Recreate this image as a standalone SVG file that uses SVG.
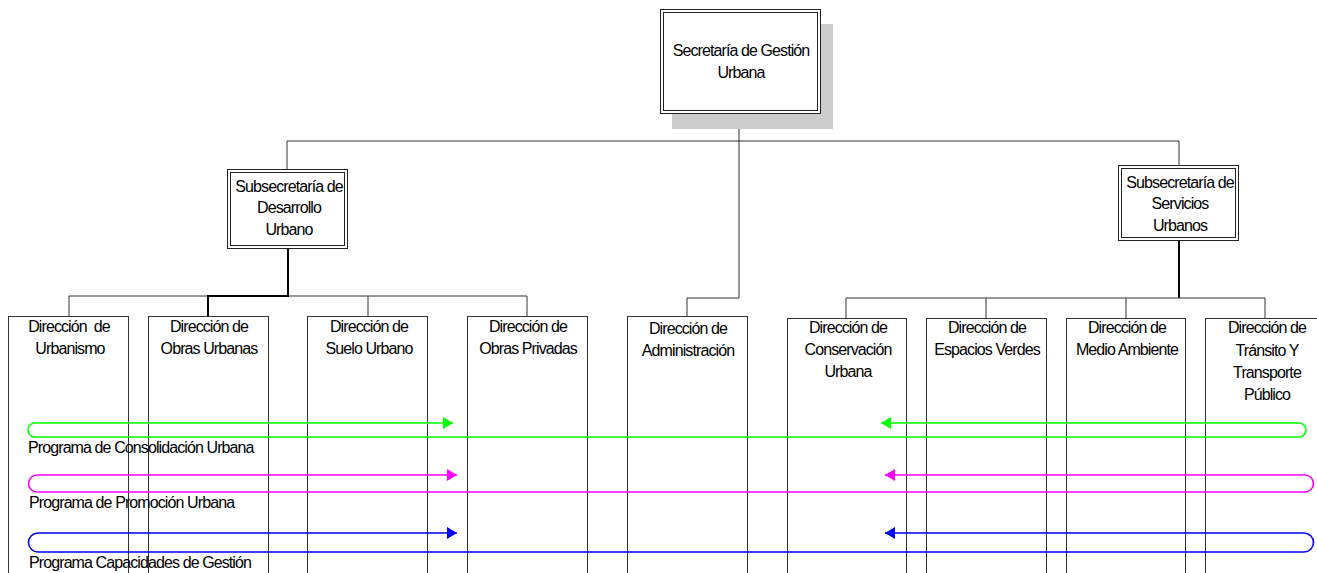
<svg xmlns="http://www.w3.org/2000/svg" width="1317" height="573" viewBox="0 0 1317 573">
  <style>
    .t { font-family: "Liberation Sans", Arial, sans-serif; font-size: 16px; letter-spacing: -0.9px; fill: #000; text-anchor: middle; }
    .tl { font-family: "Liberation Sans", Arial, sans-serif; font-size: 16px; letter-spacing: -0.9px; fill: #000; }
    .box { fill: #fff; stroke: #222; stroke-width: 1; }
    .col { fill: #fff; stroke: #333; stroke-width: 1; }
    .ln { fill: none; stroke: #333; stroke-width: 1; }
    .lnb { fill: none; stroke: #000; stroke-width: 2; }
    .prog { fill: none; stroke-width: 1.6; }
  </style>
  <defs>
    <marker id="ag" viewBox="0 0 10 12" refX="10" refY="6" markerWidth="10" markerHeight="12" markerUnits="userSpaceOnUse" orient="auto-start-reverse">
      <path d="M0,0 L10,6 L0,12 Z" fill="#00ff00"/>
    </marker>
    <marker id="am" viewBox="0 0 10 12" refX="10" refY="6" markerWidth="10" markerHeight="12" markerUnits="userSpaceOnUse" orient="auto-start-reverse">
      <path d="M0,0 L10,6 L0,12 Z" fill="#ff00ff"/>
    </marker>
    <marker id="ab" viewBox="0 0 10 12" refX="10" refY="6" markerWidth="10" markerHeight="12" markerUnits="userSpaceOnUse" orient="auto-start-reverse">
      <path d="M0,0 L10,6 L0,12 Z" fill="#0000ff"/>
    </marker>
  </defs>

  <!-- hierarchy connectors -->
  <g id="connectors">
    <path class="ln" d="M739,114 V298 H687 V316" stroke="#000"/>
    <path class="ln" d="M287,169 V141 H1179 V165"/>
    <path class="lnb" d="M288,248 V296"/>
    <path class="ln" d="M69,316 V296 H527 V316 M368,296 V316"/>
    <path class="lnb" d="M208,316 V296 H289"/>
    <path class="lnb" d="M1179,240 V298"/>
    <path class="ln" d="M846,318 V298 H1265 V318 M986,298 V318 M1126,298 V318"/>
  </g>

  <!-- top level -->
  <g id="secretaria">
    <rect x="672" y="24" width="161" height="105" fill="#cccccc"/>
    <rect class="box" x="660.5" y="9.5" width="160" height="104"/>
    <rect class="box" x="663.5" y="12.5" width="154" height="98"/>
    <text class="t" x="741" y="56">Secretaría de Gestión</text>
    <text class="t" x="741" y="78">Urbana</text>
  </g>

  <g id="sub-desarrollo">
    <rect class="box" x="227.5" y="169.5" width="120" height="79"/>
    <rect class="box" x="230.5" y="172.5" width="114" height="73"/>
    <text class="t" x="289" y="192">Subsecretaría de</text>
    <text class="t" x="289" y="213">Desarrollo</text>
    <text class="t" x="289" y="235">Urbano</text>
  </g>

  <g id="sub-servicios">
    <rect class="box" x="1118.5" y="165.5" width="120" height="75"/>
    <rect class="box" x="1121.5" y="168.5" width="114" height="69"/>
    <text class="t" x="1180" y="188">Subsecretaría de</text>
    <text class="t" x="1180" y="209">Servicios</text>
    <text class="t" x="1180" y="231">Urbanos</text>
  </g>

  <!-- directorates -->
  <g id="dir-urbanismo">
    <rect class="col" x="8.5" y="316.5" width="120" height="270"/>
    <text class="t" x="69" y="332" xml:space="preserve">Dirección  de</text>
    <text class="t" x="70" y="354">Urbanismo</text>
  </g>
  <g id="dir-obras-urbanas">
    <rect class="col" x="148.5" y="316.5" width="120" height="270"/>
    <text class="t" x="209" y="332">Dirección de</text>
    <text class="t" x="209" y="354">Obras Urbanas</text>
  </g>
  <g id="dir-suelo">
    <rect class="col" x="307.5" y="316.5" width="120" height="270"/>
    <text class="t" x="369" y="332">Dirección de</text>
    <text class="t" x="369" y="354">Suelo Urbano</text>
  </g>
  <g id="dir-obras-privadas">
    <rect class="col" x="467.5" y="316.5" width="120" height="270"/>
    <text class="t" x="528" y="332">Dirección de</text>
    <text class="t" x="528" y="354">Obras Privadas</text>
  </g>
  <g id="dir-administracion">
    <rect class="col" x="627.5" y="316.5" width="120" height="270"/>
    <text class="t" x="688" y="334">Dirección de</text>
    <text class="t" x="688" y="356">Administración</text>
  </g>
  <g id="dir-conservacion">
    <rect class="col" x="787.5" y="318.5" width="119" height="270"/>
    <text class="t" x="848" y="333">Dirección de</text>
    <text class="t" x="848" y="355">Conservación</text>
    <text class="t" x="848" y="377">Urbana</text>
  </g>
  <g id="dir-espacios-verdes">
    <rect class="col" x="926.5" y="318.5" width="120" height="270"/>
    <text class="t" x="987" y="333">Dirección de</text>
    <text class="t" x="987" y="355">Espacios Verdes</text>
  </g>
  <g id="dir-medio-ambiente">
    <rect class="col" x="1066.5" y="318.5" width="119" height="270"/>
    <text class="t" x="1127" y="333">Dirección de</text>
    <text class="t" x="1127" y="355">Medio Ambiente</text>
  </g>
  <g id="dir-transito">
    <rect class="col" x="1205.5" y="318.5" width="120" height="270"/>
    <text class="t" x="1267" y="333">Dirección de</text>
    <text class="t" x="1267" y="356">Tránsito Y</text>
    <text class="t" x="1267" y="378">Transporte</text>
    <text class="t" x="1267" y="400">Público</text>
  </g>

  <!-- cross-cutting programmes -->
  <g id="programas">
    <path class="prog" stroke="#00ff00" marker-start="url(#ag)" marker-end="url(#ag)" d="M453,423 H35 A7,7 0 0 0 35,437 H1299 A7,7 0 0 0 1299,423 H881"/>
    <text class="tl" x="28" y="453">Programa de Consolidación Urbana</text>
    <path class="prog" stroke="#ff00ff" marker-start="url(#am)" marker-end="url(#am)" d="M457,475 H37 A8.5,8.5 0 0 0 37,492 H1305 A8.5,8.5 0 0 0 1305,475 H885"/>
    <text class="tl" x="29" y="508">Programa de Promoción Urbana</text>
    <path class="prog" stroke="#0000ff" marker-start="url(#ab)" marker-end="url(#ab)" d="M457,533 H38 A9.5,9.5 0 0 0 38,552 H1304 A9.5,9.5 0 0 0 1304,533 H885"/>
    <text class="tl" x="29" y="568">Programa Capacidades de Gestión</text>
  </g>
</svg>
